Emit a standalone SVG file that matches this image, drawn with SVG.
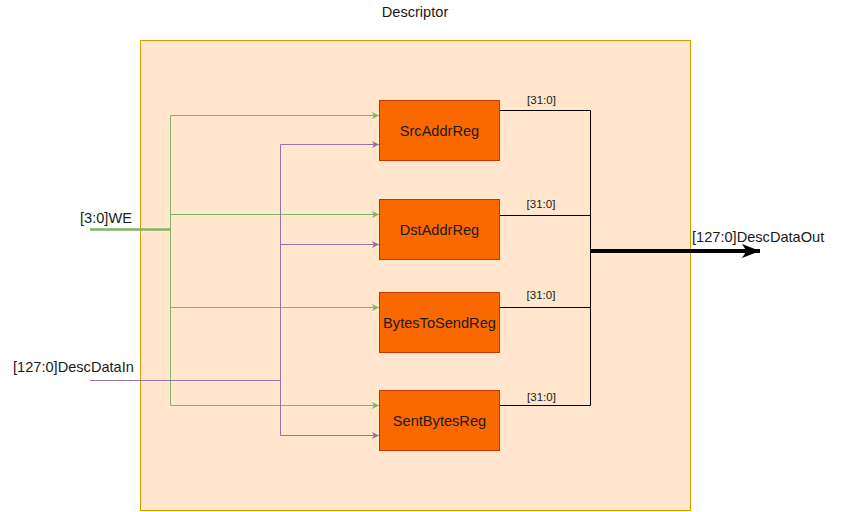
<svg xmlns="http://www.w3.org/2000/svg" width="841" height="512" viewBox="0 0 841 512">
<style>
text{font-family:"Liberation Sans",Arial,sans-serif;fill:#1a1a1a}
.t{font-size:14.6px}
.s{font-size:11.5px}
.reg{fill:#fa6800;stroke:#c73500;stroke-width:1}
.g{stroke:#82b366;stroke-width:1;fill:none}
.p{stroke:#9673a6;stroke-width:1;fill:none}
.k{stroke:#000;stroke-width:1;fill:none}
</style>
<defs>
<marker id="ag" markerUnits="userSpaceOnUse" markerWidth="8" markerHeight="8" refX="7" refY="3.5" orient="auto"><path d="M0,0 L7,3.5 L0,7 L1.75,3.5 Z" fill="#82b366"/></marker>
<marker id="ap" markerUnits="userSpaceOnUse" markerWidth="8" markerHeight="8" refX="7" refY="3.5" orient="auto"><path d="M0,0 L7,3.5 L0,7 L1.75,3.5 Z" fill="#9673a6"/></marker>
<marker id="ab" markerUnits="userSpaceOnUse" markerWidth="19" markerHeight="15" refX="18" refY="7" orient="auto"><path d="M0,0 L18,7 L0,14 L4.5,7 Z" fill="#000"/></marker>
</defs>
<g id="container">
<rect x="140.5" y="40.5" width="550" height="470" fill="#ffe6cc" stroke="#d79b00"/>
<text class="t" x="415" y="17" text-anchor="middle">Descriptor</text>
</g>
<g id="connectors">
<path d="M90,229.5 H170" stroke="#82b366" stroke-width="2.5" fill="none"/>
<path class="g" d="M170.5,115.5 V405.5"/>
<path class="g" d="M170.5,115.5 H379" marker-end="url(#ag)"/>
<path class="g" d="M170.5,214.5 H379" marker-end="url(#ag)"/>
<path class="g" d="M170.5,307.5 H379" marker-end="url(#ag)"/>
<path class="g" d="M170.5,405.5 H379" marker-end="url(#ag)"/>
<path class="p" d="M90,380.5 H280.5"/>
<path class="p" d="M280.5,144.5 V435.5"/>
<path class="p" d="M280.5,144.5 H379" marker-end="url(#ap)"/>
<path class="p" d="M280.5,244.5 H379" marker-end="url(#ap)"/>
<path class="p" d="M280.5,435.5 H379" marker-end="url(#ap)"/>
<path class="k" d="M499,110.5 H590.5 V405.5 H499"/>
<path class="k" d="M499,215.5 H590.5"/>
<path class="k" d="M499,307.5 H590.5"/>
<path d="M590,251 H760" stroke="#000" stroke-width="4" fill="none" marker-end="url(#ab)"/>
<text class="s" x="541.5" y="104" text-anchor="middle">[31:0]</text>
<text class="s" x="541" y="208" text-anchor="middle">[31:0]</text>
<text class="s" x="541" y="299" text-anchor="middle">[31:0]</text>
<text class="s" x="541.5" y="401" text-anchor="middle">[31:0]</text>
</g>
<g id="WE"><text class="t" x="80" y="223">[3:0]WE</text></g>
<g id="DescDataIn"><text class="t" x="13" y="372">[127:0]DescDataIn</text></g>
<g id="DescDataOut"><text class="t" x="692" y="242">[127:0]DescDataOut</text></g>
<g id="SrcAddrReg"><rect class="reg" x="379.5" y="100.5" width="120" height="60"/><text class="t" x="439.5" y="135.5" text-anchor="middle">SrcAddrReg</text></g>
<g id="DstAddrReg"><rect class="reg" x="379.5" y="199.5" width="120" height="60"/><text class="t" x="439.5" y="234.5" text-anchor="middle">DstAddrReg</text></g>
<g id="BytesToSendReg"><rect class="reg" x="379.5" y="292.5" width="120" height="60"/><text class="t" x="439.5" y="328" text-anchor="middle">BytesToSendReg</text></g>
<g id="SentBytesReg"><rect class="reg" x="379.5" y="390.5" width="120" height="60"/><text class="t" x="439.5" y="426" text-anchor="middle">SentBytesReg</text></g>
</svg>
